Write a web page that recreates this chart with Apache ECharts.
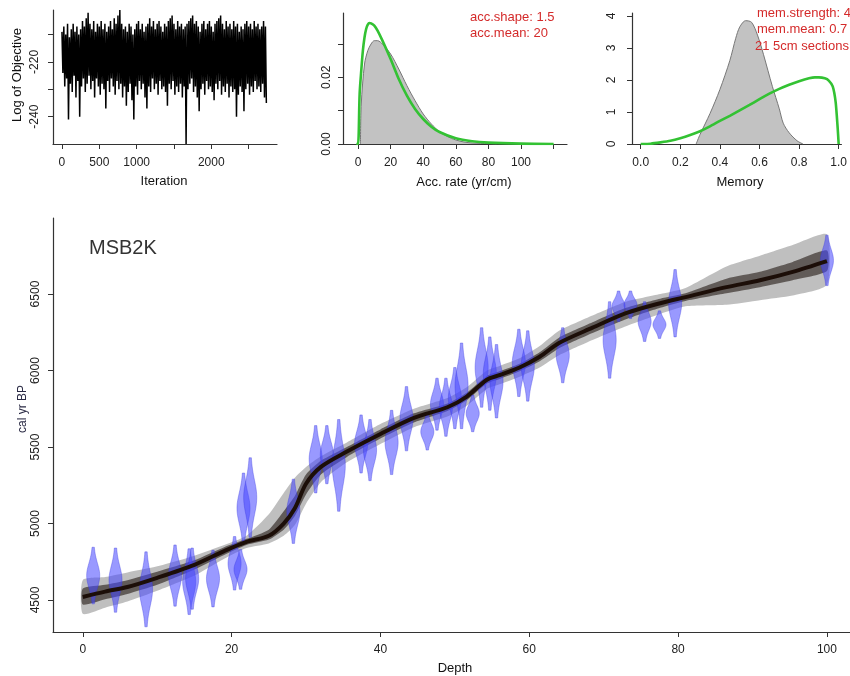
<!DOCTYPE html>
<html><head><meta charset="utf-8">
<script src="https://cdn.jsdelivr.net/npm/echarts@6/dist/echarts.min.js"></script>
<style>html,body{margin:0;padding:0;background:#fff}#c{width:850px;height:676px}</style>
</head><body><div id="c"></div>
<script>
// ---------------- DATA ----------------
// MCMC trace: log of objective, one stored value every traceStep iterations
const traceStep = 12.5;
const traceValues = [
-209,-224,-207,-229,-210,-226,-206,-241,-211,-228,
-208,-231,-206,-225,-209,-233,-207,-227,-210,-240,
-208,-229,-205,-226,-207,-231,-204,-228,-202,-225,
-206,-230,-208,-227,-205,-233,-209,-226,-206,-229,
-207,-232,-205,-228,-208,-230,-206,-237,-209,-227,
-207,-231,-205,-226,-208,-229,-204,-232,-206,-227,
-203,-230,-201,-228,-206,-233,-208,-229,-207,-236,
-209,-231,-206,-228,-207,-234,-210,-241,-208,-229,
-206,-232,-205,-227,-208,-230,-206,-228,-209,-233,
-207,-237,-206,-229,-204,-231,-207,-226,-205,-230,
-208,-228,-206,-232,-205,-227,-207,-230,-209,-229,
-206,-231,-207,-236,-205,-228,-204,-230,-203,-227,
-206,-232,-208,-229,-205,-231,-207,-228,-206,-233,
-208,-229,-207,-250,-206,-230,-205,-228,-204,-226,
-203,-231,-206,-229,-205,-233,-207,-238,-209,-230,
-206,-228,-205,-232,-208,-227,-206,-230,-205,-229,
-207,-231,-209,-234,-206,-228,-205,-230,-204,-227,
-203,-232,-206,-229,-208,-231,-205,-228,-207,-233,
-206,-229,-208,-231,-205,-230,-207,-240,-206,-232,
-209,-229,-207,-231,-208,-238,-206,-230,-205,-228,
-207,-232,-206,-229,-208,-231,-205,-227,-207,-230,
-206,-229,-208,-231,-207,-228,-205,-233,-207,-235
];
// accumulation rate: posterior (grey) and prior (green)
const accRateX    = [1.5,2,4,6,8,10,12,15,20,25,30,35,40,45,50,55,60,65,70,80,85];
const accRatePost = [0,0.012,0.024,0.028,0.030,0.031,0.031,0.030,0.027,0.0225,0.0175,0.013,0.009,0.006,0.0037,0.0022,0.0012,0.0006,0.0003,0.0001,0];
const accPriorX   = [-1,0,1,2,3,4,5,6,7,8,10,12,15,20,25,30,35,40,45,50,60,70,80,100,120];
const accPrior    = [0,0,0.015,0.022,0.028,0.032,0.0345,0.0358,0.0363,0.0362,0.0355,0.034,0.031,0.0255,0.0195,0.0145,0.0105,0.0075,0.0052,0.0036,0.0017,0.0008,0.0004,0.0001,0.00002];
// memory: posterior (grey) and prior (green)
const memX      = [0.28,0.30,0.35,0.40,0.45,0.48,0.50,0.53,0.56,0.59,0.62,0.665,0.70,0.72,0.75,0.79,0.82];
const memPost   = [0,0.3,0.95,1.7,2.6,3.3,3.65,3.85,3.8,3.4,2.8,1.8,1.1,0.65,0.35,0.1,0];
const memPriorX = [0,0.05,0.1,0.15,0.2,0.25,0.3,0.35,0.4,0.45,0.5,0.55,0.6,0.65,0.7,0.75,0.8,0.85,0.88,0.9,0.93,0.95,0.97,0.985,0.995,1.0];
const memPrior  = [0,0.01,0.05,0.1,0.18,0.28,0.4,0.55,0.72,0.88,1.05,1.22,1.4,1.57,1.72,1.85,1.96,2.05,2.08,2.08,2.05,1.98,1.8,1.3,0.5,0];
// age-depth model
const modelDepth  = [0,3,6,10,15,19,22,25,27,28.5,30,32,35.5,40,44.5,49,51.6,54.3,56,58.7,61.4,64,68.5,73,77.6,81,86.5,91,95.4,100];
const modelMedian = [4520,4555,4585,4645,4730,4820,4880,4920,5000,5100,5260,5370,5470,5585,5690,5760,5830,5940,5970,6020,6090,6180,6280,6375,6440,6480,6545,6590,6645,6715];
const modelLo95   = [4410,4450,4490,4560,4660,4770,4840,4870,4920,4990,5130,5270,5400,5520,5630,5700,5770,5880,5910,5960,6020,6100,6200,6290,6370,6420,6430,6460,6490,6560];
const modelHi95   = [4630,4650,4680,4720,4790,4860,4920,5060,5200,5300,5370,5440,5530,5650,5750,5820,5890,6000,6030,6080,6160,6260,6360,6450,6500,6540,6680,6750,6820,6890];
const modelLo68   = [4470,4505,4540,4600,4700,4795,4860,4895,4960,5050,5190,5320,5435,5555,5660,5735,5805,5915,5945,5995,6060,6145,6245,6335,6410,6455,6505,6545,6590,6650];
const modelHi68   = [4575,4600,4630,4685,4760,4845,4900,4960,5080,5180,5320,5410,5500,5615,5720,5785,5855,5965,5995,6045,6120,6215,6315,6410,6470,6505,6600,6645,6710,6785];
// calibrated dates
const dateDepth  = [1.4,4.4,8.5,12.4,14.3,14.7,17.5,20.4,21.2,21.6,22.5,28.3,31.3,32.8,34.4,37.4,38.6,41.5,43.5,46.3,47.6,48.8,50.0,50.9,52.4,53.6,54.7,55.6,58.6,59.8,64.5,70.8,72.0,73.6,75.5,77.5,79.6,100];
const dateAge    = [4660,4630,4570,4660,4620,4640,4640,4740,4700,5100,5170,5080,5420,5450,5380,5520,5480,5530,5685,5600,5780,5760,5820,5900,5720,6020,5980,5930,6050,6030,6100,6200,6420,6430,6320,6300,6440,6720];
const dateSpread = [185,210,245,200,215,200,185,175,130,230,260,210,220,190,300,190,200,210,210,120,170,190,200,280,120,260,240,240,220,230,180,250,100,90,130,90,220,165];
// ticks
const depthTicks = [0,20,40,60,80,100];
const ageTicks = [4500,5000,5500,6000,6500];
const iterTicks = [0,500,1000,1500,2000,2500];
const iterLabels = [0,500,1000,2000];
const objTicks = [-240,-230,-220,-210];
const objLabels = [-240,-220];
const accTicks = [0,20,40,60,80,100,120];
const accLabels = [0,20,40,60,80,100];
const densTicks = [0,0.01,0.02,0.03];
const densLabels = [0,0.02];
const memTicks = [0,0.2,0.4,0.6,0.8,1];
const memYTicks = [0,1,2,3,4];

// ---------------- CHART ----------------
const FONT = '"Liberation Sans", Arial, sans-serif';
const chart = echarts.init(document.getElementById('c'), null, {renderer:'canvas'});
const zip = (xs, ys) => xs.map((x, i) => [x, ys[i]]);

function xAx(grid, min, max, ticks, labels, fmt, margin) {
  return {type:'value', gridIndex:grid, min, max,
    axisLine:{show:true, onZero:false, lineStyle:{color:'#333', width:1.2}},
    axisTick:{show:true, length:5, customValues:ticks, lineStyle:{color:'#333'}},
    axisLabel:{customValues:labels, margin:margin, fontSize:12, fontFamily:FONT, color:'#222',
      formatter: fmt || (v => String(v))},
    splitLine:{show:false}};
}
function yAx(grid, min, max, ticks, labels, fmt, margin) {
  return {type:'value', gridIndex:grid, min, max,
    axisLine:{show:true, onZero:false, lineStyle:{color:'#333', width:1.2}},
    axisTick:{show:true, length:5, customValues:ticks, lineStyle:{color:'#333'}},
    axisLabel:{customValues:labels, rotate:90, margin:margin, fontSize:12, fontFamily:FONT, color:'#222',
      formatter: fmt || (v => String(v))},
    splitLine:{show:false}};
}

function bandSeries(lo, hi, color) {
  return {type:'custom', xAxisIndex:0, yAxisIndex:0, clip:true, silent:true,
    data:[[modelDepth[0], lo[0]]], encode:{x:0, y:1},
    renderItem:(params, api) => {
      const pts = [];
      for (let i = 0; i < modelDepth.length; i++) pts.push(api.coord([modelDepth[i], hi[i]]));
      for (let i = modelDepth.length - 1; i >= 0; i--) pts.push(api.coord([modelDepth[i], lo[i]]));
      return {type:'polygon', shape:{points:pts, smooth:0.2}, style:{fill:color}};
    }};
}

const text = (t, x, y, opt) => Object.assign({type:'text', x, y, silent:true, z:100,
  style:Object.assign({text:t, fontFamily:FONT, fontSize:13, fill:'#111', align:'center', verticalAlign:'middle'}, opt && opt.style || {})},
  opt && opt.rotation ? {rotation:opt.rotation} : {});

chart.setOption({
  animation:false,
  backgroundColor:'#fff',
  grid:[
    {left:53, top:218, width:797, height:414},
    {left:53, top:10, width:224, height:134},
    {left:343, top:13, width:224, height:131},
    {left:632, top:13, width:218, height:131}
  ],
  xAxis:[
    xAx(0, -4, 103.1, depthTicks, depthTicks, null, 12),
    xAx(1, -120, 2880, iterTicks, iterLabels, null, 13),
    xAx(2, -9.2, 128.2, accTicks, accLabels, null, 13),
    xAx(3, -0.044, 1.014, memTicks, memTicks, v => v.toFixed(1), 13)
  ],
  yAxis:[
    yAx(0, 4291, 6997, ageTicks, ageTicks, null, 11),
    yAx(1, -250, -201, objTicks, objLabels, null, 12),
    yAx(2, 0, 0.0393, densTicks, densLabels, v => v.toFixed(2), 10),
    yAx(3, 0, 4.09, memYTicks, memYTicks, null, 14)
  ],
  series:[
    {type:'line', xAxisIndex:1, yAxisIndex:1, data:traceValues.map((v, i) => [i * traceStep, v]),
      showSymbol:false, symbol:'none', lineStyle:{color:'#000', width:1.5}, silent:true},
    {type:'line', xAxisIndex:2, yAxisIndex:2, data:zip(accRateX, accRatePost), symbol:'none', smooth:0.3,
      lineStyle:{color:'#777', width:1}, areaStyle:{color:'#c2c2c2', opacity:1}, silent:true},
    {type:'line', xAxisIndex:2, yAxisIndex:2, data:zip(accPriorX, accPrior), symbol:'none', smooth:0.3,
      lineStyle:{color:'#33c233', width:2.6}, silent:true},
    {type:'line', xAxisIndex:3, yAxisIndex:3, data:zip(memX, memPost), symbol:'none', smooth:0.3,
      lineStyle:{color:'#777', width:1}, areaStyle:{color:'#c2c2c2', opacity:1}, silent:true},
    {type:'line', xAxisIndex:3, yAxisIndex:3, data:zip(memPriorX, memPrior), symbol:'none', smooth:0.2,
      lineStyle:{color:'#33c233', width:2.6}, silent:true},
    bandSeries(modelLo95, modelHi95, 'rgba(60,60,60,0.33)'),
    bandSeries(modelLo68, modelHi68, 'rgba(35,25,20,0.6)'),
    {type:'line', xAxisIndex:0, yAxisIndex:0, data:zip(modelDepth, modelMedian), symbol:'none', smooth:0.3,
      lineStyle:{color:'#1c0e08', width:4}, silent:true},
    {type:'custom', xAxisIndex:0, yAxisIndex:0, clip:true, silent:true,
      data:dateDepth.map((d, i) => [d, dateAge[i], dateSpread[i]]), encode:{x:0, y:1},
      renderItem:(params, api) => {
        const d = api.value(0), m = api.value(1), s = api.value(2);
        const N = 28, W = 0.78, left = [], right = [];
        for (let k = 0; k <= N; k++) {
          const t = -1 + 2 * k / N;
          const w = W * Math.exp(-2.6 * t * t) + 0.1;
          left.push(api.coord([d - w, m + t * s]));
          right.push(api.coord([d + w, m + t * s]));
        }
        return {type:'polygon', shape:{points:left.concat(right.reverse())},
          style:{fill:'rgba(70,70,255,0.55)', stroke:'rgba(55,55,220,0.6)', lineWidth:0.6}};
      }}
  ],
  graphic:[
    text('Log of Objective', 17, 75, {rotation:Math.PI/2}),
    text('Iteration', 164, 181),
    text('Acc. rate (yr/cm)', 464, 182),
    text('Memory', 740, 182),
    text('acc.shape: 1.5', 470, 17, {style:{align:'left', fill:'#d42a2a'}}),
    text('acc.mean: 20', 470, 33, {style:{align:'left', fill:'#d42a2a'}}),
    text('mem.strength: 4', 757, 13, {style:{align:'left', fill:'#d42a2a'}}),
    text('mem.mean: 0.7', 757, 29, {style:{align:'left', fill:'#d42a2a'}}),
    text('21 5cm sections', 755, 46, {style:{align:'left', fill:'#d42a2a'}}),
    text('MSB2K', 89, 248, {style:{align:'left', fontSize:20, fill:'#333'}}),
    text('cal yr BP', 23, 409, {rotation:Math.PI/2, style:{fontSize:12, fill:'#2a2a44'}}),
    text('Depth', 455, 668)
  ]
});
</script>
</body></html>
